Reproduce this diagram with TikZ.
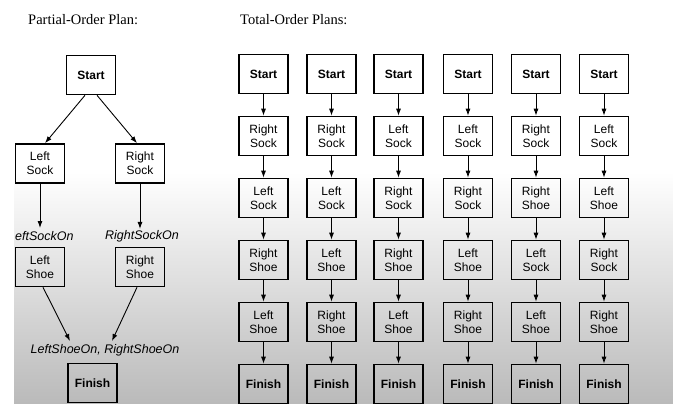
\documentclass[tikz,border=0pt]{standalone}
\usepackage{fontspec}
\setmainfont{Liberation Serif}
\newfontfamily\boxfont{Liberation Sans}
\usetikzlibrary{arrows.meta}
\newcommand\tRSk{Right\\Sock}
\newcommand\tLSk{Left\\Sock}
\newcommand\tRSh{Right\\Shoe}
\newcommand\tLSh{Left\\Shoe}
\begin{document}
\begin{tikzpicture}[x=1pt,y=-1pt,
  stepbox/.style={draw, line width=1.6pt, minimum width=49pt, minimum height=39pt,
    inner sep=1pt, align=center, font=\boxfont\fontsize{12}{14}\selectfont},
  cond/.style={inner sep=1pt, font=\boxfont\itshape\fontsize{12.5}{14}\selectfont},
  title/.style={inner sep=0pt, anchor=base west, font=\fontsize{14.5}{17}\selectfont},
  arr/.style={line width=0.9pt, -{Latex[length=7pt,width=5pt]}}]
\useasboundingbox (0,0) rectangle (673,412);
\shade[top color=white, bottom color=black!27] (14,172) rectangle (673,403);
% titles
\node[title] (t1) at (28,25) {Partial-Order Plan:};
\node[title] (t2) at (240,25) {Total-Order Plans:};
% partial-order plan
\node[stepbox] (pS) at (91,75) {\textbf{Start}};
\node[stepbox] (pLS) at (40,163.5) {\tLSk};
\node[stepbox] (pRS) at (140,163.5) {\tRSk};
\node[cond, anchor=west] (cL) at (14,236) {eftSockOn};
\node[cond] (cR) at (142,236) {RightSockOn};
\node[stepbox] (pLH) at (40,267) {\tLSh};
\node[stepbox] (pRH) at (140,267) {\tRSh};
\node[cond] (cF) at (105,350) {LeftShoeOn, RightShoeOn};
\node[stepbox] (pF) at (92.5,383) {\textbf{Finish}};
\coordinate (eL) at (40,228);
\coordinate (eF1) at (70,341);
\coordinate (eF2) at (112,341);
\draw[arr] ([xshift=-6pt]pS.south) -- ([xshift=5pt]pLS.north);
\draw[arr] ([xshift=6pt]pS.south) -- ([xshift=-3pt]pRS.north);
\draw[arr] (pLS.south) -- (eL);
\draw[arr] (pRS.south) -- (cR.north -| pRS.south);
\draw[arr] ([xshift=3pt]pLH.south) -- (eF1);
\draw[arr] ([xshift=-3pt]pRH.south) -- (eF2);
% total-order plans
\foreach \c/\x/\a/\b/\d/\e in {
  1/263.5/\tRSk/\tLSk/\tRSh/\tLSh,
  2/331.5/\tRSk/\tLSk/\tLSh/\tRSh,
  3/398.5/\tLSk/\tRSk/\tRSh/\tLSh,
  4/468/\tLSk/\tRSk/\tLSh/\tRSh,
  5/536/\tRSk/\tRSh/\tLSk/\tLSh,
  6/604/\tLSk/\tLSh/\tRSk/\tRSh}{
  \node[stepbox] (c\c r1) at (\x,74) {\textbf{Start}};
  \node[stepbox] (c\c r2) at (\x,136) {\a};
  \node[stepbox] (c\c r3) at (\x,198) {\b};
  \node[stepbox] (c\c r4) at (\x,260) {\d};
  \node[stepbox] (c\c r5) at (\x,322) {\e};
  \node[stepbox] (c\c r6) at (\x,384) {\textbf{Finish}};
  \foreach \r [evaluate=\r as \s using int(\r+1)] in {1,...,5}
    \draw[arr] (c\c r\r.south) -- (c\c r\s.north);
}
\end{tikzpicture}
\end{document}
